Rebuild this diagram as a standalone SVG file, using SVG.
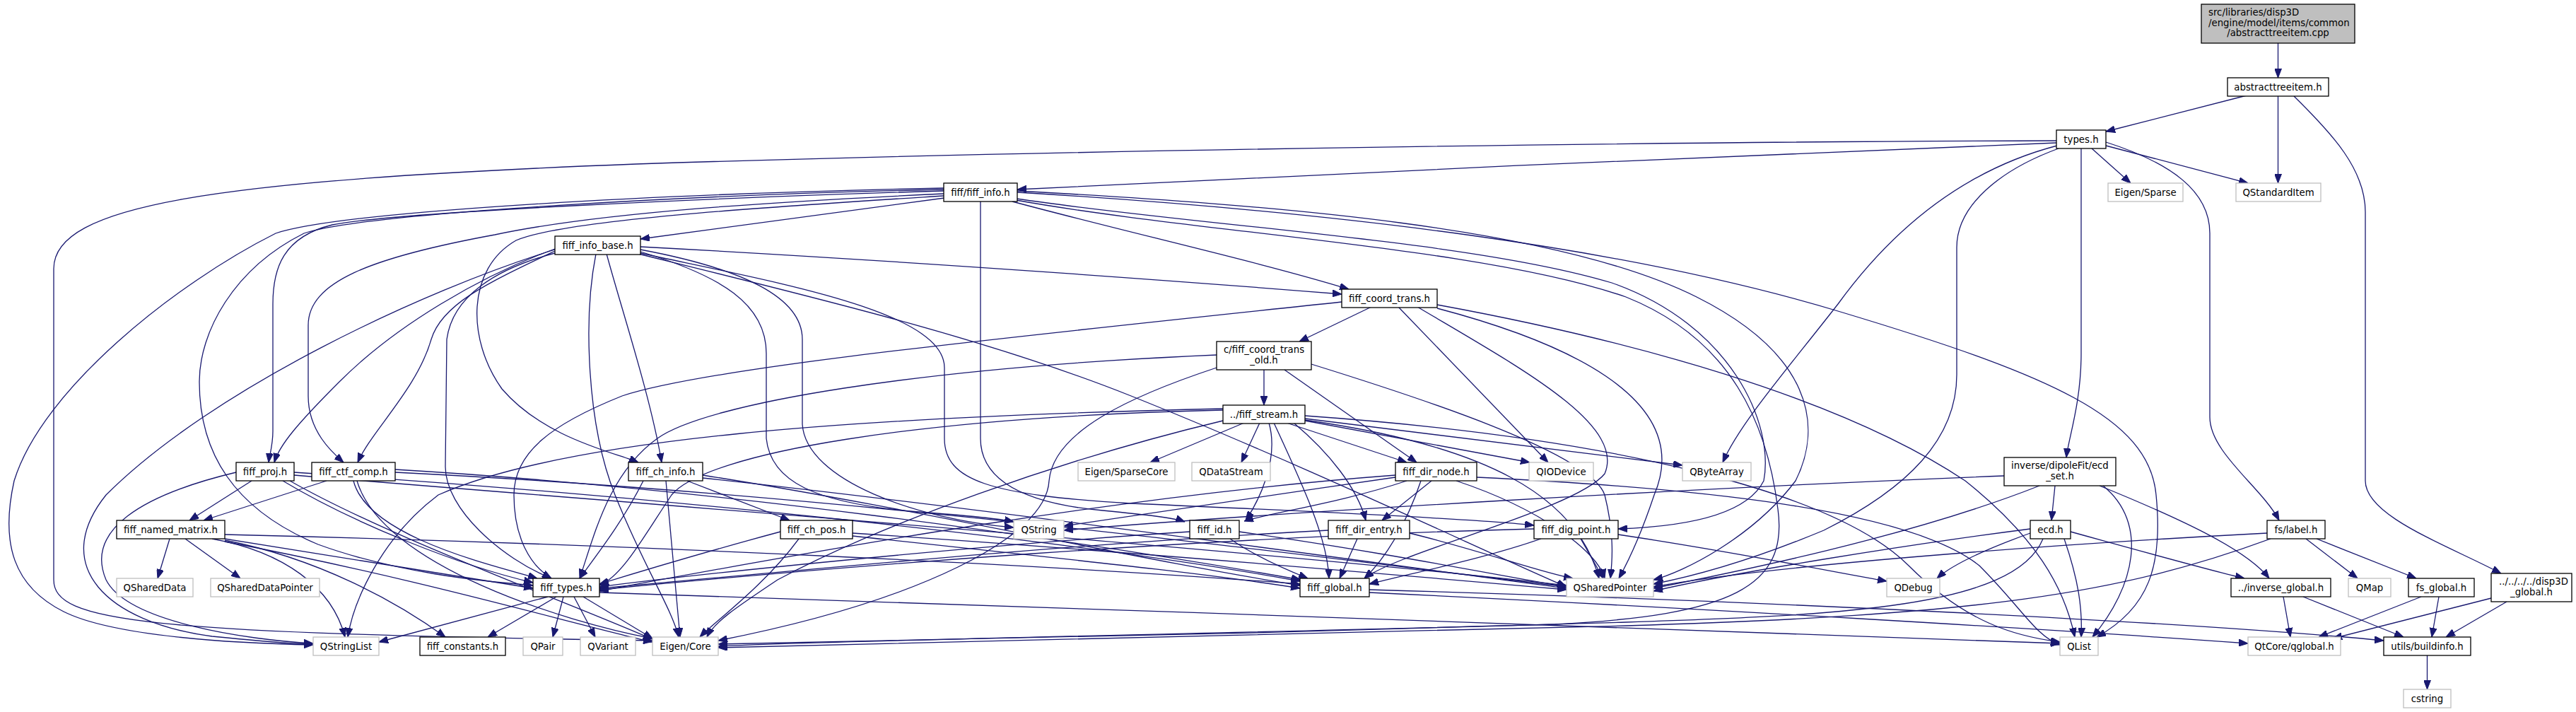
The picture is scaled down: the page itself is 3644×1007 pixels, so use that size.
<svg xmlns="http://www.w3.org/2000/svg" width="3644" height="1007" viewBox="0 0 3644 1007">
<style>
text{font-family:"DejaVu Sans","Liberation Sans",sans-serif;font-size:13.3px;fill:#000}
.m{text-anchor:middle}
.d rect{fill:#fff;stroke:#000;stroke-width:1.3}
.x rect{fill:#fff;stroke:#bfbfbf;stroke-width:1.3}
.r rect{fill:#bfbfbf;stroke:#000;stroke-width:1.3}
#edges path{fill:none;stroke:#191970;stroke-width:1.3;marker-end:url(#a)}
</style>
<defs>
<marker id="a" viewBox="0 0 13 10" refX="13" refY="5" markerWidth="13" markerHeight="10" markerUnits="userSpaceOnUse" orient="auto">
<path d="M0,0 L13,5 L0,10 z" fill="#191970" stroke="#191970"/>
</marker>
</defs>
<rect width="3644" height="1007" fill="#fff"/>
<g id="edges">
<path d="M3222.5,61 L3222.5,110"/>
<path d="M3178,135 L2979,186"/>
<path d="M3222.5,135 L3222.5,259"/>
<path d="M3245,136 C3300,190 3346,240 3346,300 L3346,680 C3346,730 3460,770 3538,811"/>
<path d="M2909,202 C2600,212 1800,250 1439,268"/>
<path d="M2959,210 L3014,259"/>
<path d="M2979,206 L3180,259"/>
<path d="M2979,201 C3070,230 3126,270 3126,330 L3126,590 C3126,640 3200,690 3224,736"/>
<path d="M2944,210 L2944,500 C2944,570 2926,620 2923,647"/>
<path d="M2910,206 C2780,240 2680,320 2600,430 C2530,520 2460,600 2437,654"/>
<path d="M2912,210 C2830,240 2768,290 2768,350 L2768,530 C2768,620 2700,690 2580,750 C2460,800 2380,818 2339,826"/>
<path d="M2909,199 C2400,200 1500,212 900,232 C300,255 76,290 76,380 L76,820 C76,880 200,895 923,906"/>
<path d="M1336,280 L906,338"/>
<path d="M1335,270 C1000,280 560,300 470,318 C400,335 386,380 386,430 L386,610 C386,630 381,645 380,654"/>
<path d="M1335,274 C1100,285 850,300 700,332 C520,365 436,400 436,460 L436,560 C436,610 470,640 486,654"/>
<path d="M1335,277 C1100,292 800,310 730,340 C660,380 660,480 710,550 C770,620 870,640 903,654"/>
<path d="M1432,285 C1600,330 1780,370 1908,409"/>
<path d="M1335,268 C1000,275 520,300 430,330 C330,380 282,470 282,540 C282,640 330,720 450,770 C560,810 680,822 754,828"/>
<path d="M1335,266 C900,275 480,300 390,330 C250,400 60,550 20,680 C0,770 20,830 90,865 C160,900 330,910 443,912"/>
<path d="M1437,283 C1700,330 2100,350 2300,420 C2450,480 2500,600 2515,720 C2530,830 2450,870 2200,883 C1800,896 1200,908 1016,911"/>
<path d="M1439,272 C1900,300 2300,350 2600,440 C2900,530 3040,590 3050,700 C3060,800 3040,860 2966,901"/>
<path d="M1439,270 C1800,290 2200,320 2400,420 C2560,500 2580,600 2540,680 C2480,760 2380,810 2339,820"/>
<path d="M1438,281 C1700,320 2080,340 2280,400 C2450,460 2510,600 2495,680 C2470,730 2380,745 2289,748"/>
<path d="M1387,285 L1387,620 C1387,680 1450,712 1560,722 C1620,728 1660,732 1676,738"/>
<path d="M785,352 C680,390 560,460 480,540 C420,600 395,630 388,654"/>
<path d="M785,355 C690,400 625,430 610,480 C590,550 525,610 506,654"/>
<path d="M785,353 C600,410 300,550 150,700 C70,800 150,880 300,900 C380,908 420,911 443,911"/>
<path d="M785,358 C700,380 640,420 632,480 L630,660 C630,720 710,790 780,818"/>
<path d="M843,359 C825,450 830,600 870,700 C910,800 950,860 960,901"/>
<path d="M858,359 C880,440 920,560 936,654"/>
<path d="M906,349 C1300,370 1700,400 1898,416"/>
<path d="M906,353 C1050,380 1135,420 1135,480 L1135,600 C1140,680 1300,735 1434,746"/>
<path d="M906,356 C1020,390 1084,430 1084,500 L1084,620 C1090,680 1150,712 1300,724 C1380,730 1420,735 1434,738"/>
<path d="M906,358 C1100,400 1336,440 1336,520 L1336,620 C1336,680 1400,700 1600,712 C1900,725 2100,735 2170,743"/>
<path d="M903,359 C1150,420 1400,480 1600,560 C1850,660 2100,780 2216,830"/>
<path d="M1940,434 L1838,483"/>
<path d="M1978,434 L2190,654"/>
<path d="M1898,427 C1400,480 1000,520 880,560 C780,600 727,640 727,700 C727,760 750,800 780,818"/>
<path d="M2005,434 C2150,520 2300,600 2270,670 C2230,720 1980,780 1930,818"/>
<path d="M2033,436 C2200,480 2400,560 2340,700 C2320,760 2300,800 2290,818"/>
<path d="M2033,431 C2300,480 2600,560 2780,680 C2880,760 2920,830 2935,901"/>
<path d="M1788,523 L1788,573"/>
<path d="M1817,523 L2004,654"/>
<path d="M1721,502 C1300,520 1000,570 930,620 C860,670 840,760 820,818"/>
<path d="M1721,520 C1600,560 1490,610 1484,680 C1480,760 1300,850 1016,906"/>
<path d="M1855,515 C2000,560 2250,640 2270,700 C2285,760 2280,800 2278,818"/>
<path d="M1760,598 L1627,654"/>
<path d="M1782,598 L1756,654"/>
<path d="M1820,598 L1990,654"/>
<path d="M1846,595 L2164,654"/>
<path d="M1846,592 L2380,658"/>
<path d="M1795,598 C1810,650 1780,710 1762,736"/>
<path d="M1830,598 C1880,640 1920,690 1932,736"/>
<path d="M1730,580 C1300,590 1000,640 950,700 C910,760 880,815 848,828"/>
<path d="M1802,598 C1840,680 1878,760 1880,818"/>
<path d="M1730,578 C1200,590 800,620 620,700 C540,760 500,850 492,901"/>
<path d="M1846,588 C2300,620 2600,700 2700,800 C2780,880 2850,900 2914,908"/>
<path d="M1846,594 C2100,630 2230,700 2262,818"/>
<path d="M1730,595 C1500,650 1250,740 1100,820 C1040,860 1010,880 1000,901"/>
<path d="M2025,680 L1955,736"/>
<path d="M1990,680 C1900,710 1800,725 1760,737"/>
<path d="M2010,680 C1990,740 1960,790 1930,818"/>
<path d="M1974,672 C1600,700 1200,770 848,836"/>
<path d="M2060,680 C2180,720 2260,780 2270,818"/>
<path d="M2089,675 C2400,690 2700,720 2800,800 C2860,860 2880,900 2914,912"/>
<path d="M1974,675 C1800,700 1600,730 1505,744"/>
<path d="M240,762 L223,818"/>
<path d="M262,762 L340,818"/>
<path d="M318,762 C500,790 650,815 754,832"/>
<path d="M300,762 C400,780 470,830 488,901"/>
<path d="M318,764 C450,790 560,850 630,901"/>
<path d="M318,766 C600,820 800,880 923,908"/>
<path d="M318,756 C900,770 1500,800 1839,826"/>
<path d="M356,680 L268,736"/>
<path d="M400,680 C500,740 650,800 754,824"/>
<path d="M334,668 C200,700 120,750 150,820 C180,880 350,905 443,910"/>
<path d="M416,668 C900,700 1500,760 1839,822"/>
<path d="M410,680 C550,760 800,850 923,904"/>
<path d="M416,672 C1000,720 1800,780 2216,828"/>
<path d="M462,680 L288,736"/>
<path d="M500,680 C520,760 700,800 760,818"/>
<path d="M505,680 C540,800 800,880 923,903"/>
<path d="M559,664 C1000,690 1500,760 1840,820"/>
<path d="M559,668 C1200,700 1800,780 2216,830"/>
<path d="M972,680 L1117,736"/>
<path d="M942,680 L962,901"/>
<path d="M910,680 C880,740 840,790 820,818"/>
<path d="M994,672 C1300,720 1600,790 1839,828"/>
<path d="M994,676 C1400,720 1900,790 2216,832"/>
<path d="M1104,752 C1000,780 900,810 848,826"/>
<path d="M1206,758 C1500,790 1700,810 1839,832"/>
<path d="M1206,754 C1600,780 2000,815 2216,834"/>
<path d="M1130,762 C1080,830 1010,880 990,901"/>
<path d="M1683,752 C1400,770 1000,810 848,830"/>
<path d="M1740,762 C1780,790 1830,810 1850,818"/>
<path d="M1753,752 C1950,780 2100,810 2216,830"/>
<path d="M1920,762 L1895,818"/>
<path d="M1879,750 C1500,770 1100,810 848,832"/>
<path d="M1994,754 C2100,780 2180,810 2225,818"/>
<path d="M2236,762 L2268,818"/>
<path d="M2180,762 C2100,790 2000,810 1937,826"/>
<path d="M2170,748 C1700,760 1200,800 848,834"/>
<path d="M2289,756 C2450,780 2600,810 2669,822"/>
<path d="M2907,687 L2902,736"/>
<path d="M2975,687 C3040,740 3020,830 2960,901"/>
<path d="M2970,687 C3100,740 3180,780 3210,818"/>
<path d="M2835,673 C2400,690 1800,725 1505,750"/>
<path d="M2885,687 C2700,760 2450,810 2339,832"/>
<path d="M2872,754 C2800,780 2760,800 2740,818"/>
<path d="M2929,752 C3030,780 3140,810 3175,818"/>
<path d="M2872,748 C2700,770 2450,810 2339,836"/>
<path d="M2890,762 C2850,860 2600,870 2300,880 C1800,895 1200,905 1016,914"/>
<path d="M2920,762 C2940,820 2946,860 2944,901"/>
<path d="M3262,762 L3335,818"/>
<path d="M3277,762 L3418,818"/>
<path d="M3207,754 C2900,770 2500,800 2339,830"/>
<path d="M3212,762 C3000,840 2800,870 2300,885 C1800,898 1200,908 1016,916"/>
<path d="M3230,844 L3240,901"/>
<path d="M3258,844 L3400,901"/>
<path d="M3425,844 L3280,901"/>
<path d="M3450,844 L3440,901"/>
<path d="M3524,846 L3300,903"/>
<path d="M3546,851 L3460,901"/>
<path d="M3433.5,927 L3433.5,975"/>
<path d="M1937,838 C2400,860 2900,890 3180,910"/>
<path d="M1937,834 C2500,850 3100,880 3372,906"/>
<path d="M775,844 L536,908"/>
<path d="M787,844 L690,901"/>
<path d="M797,844 L782,901"/>
<path d="M812,844 L842,901"/>
<path d="M825,844 L923,903"/>
<path d="M848,838 C1500,860 2400,890 2914,910"/>
</g>
<g id="n_root" class="r"><rect x="3114" y="6" width="217" height="55"/><text x="3124" y="22">src/libraries/disp3D</text><text x="3124" y="37">/engine/model/items/common</text><text class="m" x="3222.5" y="51">/abstracttreeitem.cpp</text></g>
<g id="n_abstracttreeitem" class="d"><rect x="3151" y="110" width="143" height="26"/><text class="m" x="3222.5" y="127.5">abstracttreeitem.h</text></g>
<g id="n_types" class="d"><rect x="2909" y="184" width="70" height="26"/><text class="m" x="2944" y="201.5">types.h</text></g>
<g id="n_eigen_sparse" class="x"><rect x="2982" y="259" width="106" height="26"/><text class="m" x="3035" y="276.5">Eigen/Sparse</text></g>
<g id="n_qstandarditem" class="x"><rect x="3163" y="259" width="120" height="26"/><text class="m" x="3223" y="276.5">QStandardItem</text></g>
<g id="n_fiff_info" class="d"><rect x="1335" y="259" width="104" height="26"/><text class="m" x="1387" y="276.5">fiff/fiff_info.h</text></g>
<g id="n_fiff_info_base" class="d"><rect x="785" y="334" width="121" height="26"/><text class="m" x="845.5" y="351.5">fiff_info_base.h</text></g>
<g id="n_fiff_coord_trans" class="d"><rect x="1898" y="409" width="135" height="26"/><text class="m" x="1965.5" y="426.5">fiff_coord_trans.h</text></g>
<g id="n_fiff_coord_trans_old" class="d"><rect x="1721" y="483" width="134" height="40"/><text x="1731" y="499">c/fiff_coord_trans</text><text class="m" x="1788" y="514">_old.h</text></g>
<g id="n_fiff_stream" class="d"><rect x="1730" y="573" width="116" height="26"/><text class="m" x="1788" y="590.5">../fiff_stream.h</text></g>
<g id="n_fiff_proj" class="d"><rect x="334" y="654" width="82" height="26"/><text class="m" x="375" y="671.5">fiff_proj.h</text></g>
<g id="n_fiff_ctf_comp" class="d"><rect x="441" y="654" width="118" height="26"/><text class="m" x="500" y="671.5">fiff_ctf_comp.h</text></g>
<g id="n_fiff_ch_info" class="d"><rect x="889" y="654" width="105" height="26"/><text class="m" x="941.5" y="671.5">fiff_ch_info.h</text></g>
<g id="n_eigen_sparsecore" class="x"><rect x="1525" y="654" width="137" height="26"/><text class="m" x="1593.5" y="671.5">Eigen/SparseCore</text></g>
<g id="n_qdatastream" class="x"><rect x="1686" y="654" width="111" height="26"/><text class="m" x="1741.5" y="671.5">QDataStream</text></g>
<g id="n_fiff_dir_node" class="d"><rect x="1974" y="654" width="115" height="26"/><text class="m" x="2031.5" y="671.5">fiff_dir_node.h</text></g>
<g id="n_qiodevice" class="x"><rect x="2163" y="654" width="91" height="26"/><text class="m" x="2208.5" y="671.5">QIODevice</text></g>
<g id="n_qbytearray" class="x"><rect x="2380" y="654" width="97" height="26"/><text class="m" x="2428.5" y="671.5">QByteArray</text></g>
<g id="n_ecd_set" class="d"><rect x="2835" y="647" width="158" height="40"/><text x="2845" y="663">inverse/dipoleFit/ecd</text><text class="m" x="2914" y="678">_set.h</text></g>
<g id="n_fiff_named_matrix" class="d"><rect x="165" y="736" width="153" height="26"/><text class="m" x="241.5" y="753.5">fiff_named_matrix.h</text></g>
<g id="n_fiff_ch_pos" class="d"><rect x="1104" y="736" width="102" height="26"/><text class="m" x="1155" y="753.5">fiff_ch_pos.h</text></g>
<g id="n_qstring" class="x"><rect x="1434" y="736" width="71" height="26"/><text class="m" x="1469.5" y="753.5">QString</text></g>
<g id="n_fiff_id" class="d"><rect x="1683" y="736" width="70" height="26"/><text class="m" x="1718" y="753.5">fiff_id.h</text></g>
<g id="n_fiff_dir_entry" class="d"><rect x="1879" y="736" width="115" height="26"/><text class="m" x="1936.5" y="753.5">fiff_dir_entry.h</text></g>
<g id="n_fiff_dig_point" class="d"><rect x="2170" y="736" width="119" height="26"/><text class="m" x="2229.5" y="753.5">fiff_dig_point.h</text></g>
<g id="n_ecd" class="d"><rect x="2872" y="736" width="57" height="26"/><text class="m" x="2900.5" y="753.5">ecd.h</text></g>
<g id="n_fs_label" class="d"><rect x="3207" y="736" width="82" height="26"/><text class="m" x="3248" y="753.5">fs/label.h</text></g>
<g id="n_qshareddata" class="x"><rect x="165" y="818" width="108" height="26"/><text class="m" x="219" y="835.5">QSharedData</text></g>
<g id="n_qshareddatapointer" class="x"><rect x="298" y="818" width="154" height="26"/><text class="m" x="375" y="835.5">QSharedDataPointer</text></g>
<g id="n_fiff_types" class="d"><rect x="754" y="818" width="94" height="26"/><text class="m" x="801" y="835.5">fiff_types.h</text></g>
<g id="n_fiff_global" class="d"><rect x="1839" y="818" width="98" height="26"/><text class="m" x="1888" y="835.5">fiff_global.h</text></g>
<g id="n_qsharedpointer" class="x"><rect x="2216" y="818" width="123" height="26"/><text class="m" x="2277.5" y="835.5">QSharedPointer</text></g>
<g id="n_qdebug" class="x"><rect x="2669" y="818" width="75" height="26"/><text class="m" x="2706.5" y="835.5">QDebug</text></g>
<g id="n_inverse_global" class="d"><rect x="3156" y="818" width="141" height="26"/><text class="m" x="3226.5" y="835.5">../inverse_global.h</text></g>
<g id="n_qmap" class="x"><rect x="3322" y="818" width="60" height="26"/><text class="m" x="3352" y="835.5">QMap</text></g>
<g id="n_fs_global" class="d"><rect x="3407" y="818" width="93" height="26"/><text class="m" x="3453.5" y="835.5">fs_global.h</text></g>
<g id="n_disp3d_global" class="d"><rect x="3524" y="811" width="114" height="40"/><text x="3535" y="827">../../../../disp3D</text><text class="m" x="3581" y="842">_global.h</text></g>
<g id="n_qstringlist" class="x"><rect x="443" y="901" width="93" height="26"/><text class="m" x="489.5" y="918.5">QStringList</text></g>
<g id="n_fiff_constants" class="d"><rect x="594" y="901" width="121" height="26"/><text class="m" x="654.5" y="918.5">fiff_constants.h</text></g>
<g id="n_qpair" class="x"><rect x="740" y="901" width="56" height="26"/><text class="m" x="768" y="918.5">QPair</text></g>
<g id="n_qvariant" class="x"><rect x="821" y="901" width="78" height="26"/><text class="m" x="860" y="918.5">QVariant</text></g>
<g id="n_eigen_core" class="x"><rect x="923" y="901" width="93" height="26"/><text class="m" x="969.5" y="918.5">Eigen/Core</text></g>
<g id="n_qlist" class="x"><rect x="2914" y="901" width="54" height="26"/><text class="m" x="2941" y="918.5">QList</text></g>
<g id="n_qtcore_qglobal" class="x"><rect x="3180" y="901" width="131" height="26"/><text class="m" x="3245.5" y="918.5">QtCore/qglobal.h</text></g>
<g id="n_utils_buildinfo" class="d"><rect x="3372" y="901" width="123" height="26"/><text class="m" x="3433.5" y="918.5">utils/buildinfo.h</text></g>
<g id="n_cstring" class="x"><rect x="3400" y="975" width="67" height="26"/><text class="m" x="3433.5" y="992.5">cstring</text></g>
</svg>
